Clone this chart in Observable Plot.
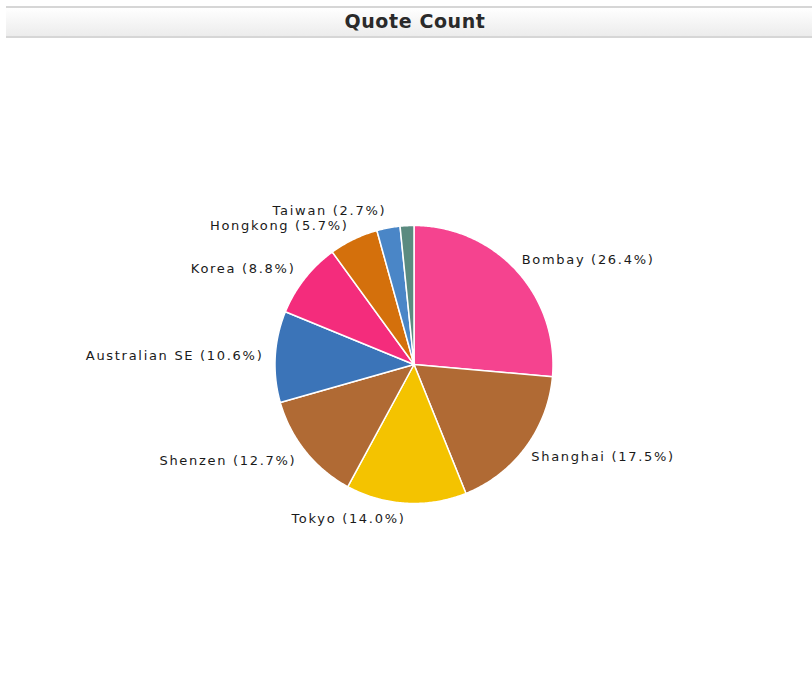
<!DOCTYPE html>
<html>
<head>
<meta charset="utf-8">
<script src="https://cdn.jsdelivr.net/npm/d3@7"></script>
<script src="https://cdn.jsdelivr.net/npm/@observablehq/plot@0.6"></script>
<style>
  html, body { margin: 0; padding: 0; background: #fff; }
  body { width: 812px; height: 688px; position: relative; overflow: hidden; }
  #hdr {
    position: absolute; left: 6px; top: 6px; width: 806px; height: 32px;
    border-top: 2px solid #d6d6d6; border-bottom: 2px solid #d6d6d6;
    background: linear-gradient(#ffffff, #ececec);
    box-sizing: border-box; padding-left: 12px;
    font-family: "DejaVu Sans", sans-serif; font-weight: bold; font-size: 19px;
    color: #2a2a2a; text-align: center; line-height: 26px;
    letter-spacing: 0.6px;
  }
  #chart { position: absolute; left: 0; top: 38px; }
  #chart text { letter-spacing: 1.7px; }
</style>
</head>
<body>
<div id="hdr">Quote Count</div>
<div id="chart"></div>
<script>
const names = ["Bombay", "Shanghai", "Tokyo", "Shenzen", "Australian SE", "Korea", "Hongkong", "Taiwan", "Other"];
const values = [26.4, 17.5, 14.0, 12.7, 10.6, 8.8, 5.7, 2.7, 1.6];
const colors = ["#f5438f", "#b06a34", "#f4c300", "#b06a34", "#3b74b8", "#f42c7c", "#d4700c", "#4a86c7", "#5b8b80"];
const showLabel = [true, true, true, true, true, true, true, true, false];

const W = 812, H = 650;
const cx = 413.5, cy = 326, R = 139;

const arcs = d3.pie().sort(null).value(d => d)(values);
const pts = [];
arcs.forEach((a, i) => {
  pts.push({name: names[i], x: 0, y: 0, color: colors[i]});
  const n = Math.max(2, Math.ceil((a.endAngle - a.startAngle) / 0.01));
  for (let k = 0; k <= n; k++) {
    const t = a.startAngle + (a.endAngle - a.startAngle) * k / n;
    pts.push({name: names[i], x: Math.sin(t), y: Math.cos(t), color: colors[i]});
  }
});
let labels = arcs.map((a, i) => {
  const m = (a.startAngle + a.endAngle) / 2;
  const right = m < Math.PI;
  return {
    text: `${names[i]} (${values[i].toFixed(1)}%)`,
    x: (right ? 1.05 : 1.085) * Math.sin(m), y: 1.11 * Math.cos(m),
    anchor: right ? "start" : "end", show: showLabel[i]
  };
}).filter(d => d.show);

// keep neighbouring labels on the same side from colliding
const gap = 15 / R;
for (const side of ["start", "end"]) {
  const s = labels.filter(d => d.anchor === side).sort((a, b) => a.y - b.y);
  for (let k = 1; k < s.length; k++) {
    if (s[k].y - s[k - 1].y < gap) s[k].y = s[k - 1].y + gap;
  }
}

const chart = Plot.plot({
  width: W, height: H,
  margin: 0,
  x: {domain: [-cx / R, (W - cx) / R], axis: null},
  y: {domain: [-(H - cy) / R, cy / R], axis: null},
  marks: [
    Plot.line(pts, {x: "x", y: "y", z: "name", fill: "color", stroke: "white", strokeWidth: 1.5, curve: "linear-closed"}),
    Plot.text(labels.filter(d => d.anchor === "start"), {x: "x", y: "y", text: "text", textAnchor: "start", fill: "#1a1a1a", fontSize: 13, fontFamily: "DejaVu Sans"}),
    Plot.text(labels.filter(d => d.anchor === "end"), {x: "x", y: "y", text: "text", textAnchor: "end", fill: "#1a1a1a", fontSize: 13, fontFamily: "DejaVu Sans"})
  ]
});
document.getElementById("chart").appendChild(chart);
</script>
</body>
</html>
